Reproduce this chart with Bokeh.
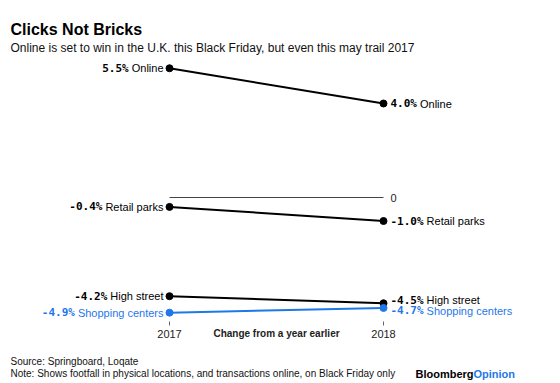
from bokeh.plotting import figure
from bokeh.models import ColumnDataSource, Range1d, Label
from bokeh.core.properties import value
from bokeh.embed import file_html
from bokeh.resources import INLINE

# ---- data ----
years = [2017, 2018]
categories = ["Online", "Retail parks", "High street", "Shopping centers"]
v2017 = [5.5, -0.4, -4.2, -4.9]
v2018 = [4.0, -1.0, -4.5, -4.7]
series_colors = ["#000000", "#000000", "#000000", "#1f77ea"]
year_labels = ["2017", "2018"]

# ---- style constants ----
W, H = 560, 383
PX_PER_YEAR = 214.0
PX_PER_UNIT = 23.5
X0_PX = 169.0      # canvas x of first year
ZERO_PX = 197.0    # canvas y (from top) of value 0
LABEL_FS = 11
MONO_W = 0.602 * LABEL_FS
BLUE = "#1f77ea"
SANS = "Liberation Sans"
MONO = "DejaVu Sans Mono"
right_label_dy = [0, 0, -3, 3]   # pixel nudges to avoid overlaps
left_label_dy = [0, 0, 0, 0]

# Arial / Liberation Sans advance widths (1/1000 em)
AW = {' ': 278, 'a': 556, 'b': 556, 'c': 500, 'd': 556, 'e': 556, 'f': 278, 'g': 556,
      'h': 556, 'i': 222, 'j': 222, 'k': 500, 'l': 222, 'm': 833, 'n': 556, 'o': 556,
      'p': 556, 'q': 556, 'r': 333, 's': 500, 't': 278, 'u': 556, 'v': 500, 'w': 722,
      'x': 500, 'y': 500, 'z': 500, 'O': 778, 'R': 722, 'H': 722, 'S': 667}


def text_w(s, fs):
    return sum(AW.get(ch, 556) for ch in s) * fs / 1000.0


x_start = years[0] - X0_PX / PX_PER_YEAR
x_end = x_start + W / PX_PER_YEAR
y_end = ZERO_PX / PX_PER_UNIT
y_start = -(H - ZERO_PX) / PX_PER_UNIT

p = figure(width=W, height=H, output_backend="svg", toolbar_location=None,
           x_range=Range1d(x_start, x_end), y_range=Range1d(y_start, y_end),
           x_axis_location=None, y_axis_location=None, min_border=0,
           outline_line_color=None, background_fill_color="white",
           border_fill_color="white")
p.xgrid.grid_line_color = None
p.ygrid.grid_line_color = None

# zero line
p.segment(x0=[years[0]], y0=[0], x1=[years[1]], y1=[0], line_color="#444444", line_width=1)
p.text(x=[years[1]], y=[0], text=["0"], x_offset=7, text_baseline="middle",
       text_align="left", text_font=value(SANS), text_font_size="11px", text_color="#222222")

# lines and dots
for a, b, c in zip(v2017, v2018, series_colors):
    p.line(x=years, y=[a, b], line_color=c, line_width=2)
    p.scatter(x=years, y=[a, b], size=7, fill_color=c, line_color=c)

# left labels
lv = ColumnDataSource(dict(
    x=[years[0]] * len(categories), y=v2017,
    val=[f"{v:.1f}%" for v in v2017], name=categories, color=series_colors,
    name_off=[-6] * len(categories),
    val_off=[-(6 + text_w(n, LABEL_FS) + 3) for n in categories],
    dy=left_label_dy))
p.text(x="x", y="y", text="name", x_offset="name_off", y_offset="dy", source=lv,
       text_align="right", text_baseline="middle", text_font=value(SANS),
       text_font_size=f"{LABEL_FS}px", text_color="color")
p.text(x="x", y="y", text="val", x_offset="val_off", y_offset="dy", source=lv,
       text_align="right", text_baseline="middle", text_font=value(MONO),
       text_font_style="bold", text_font_size=f"{LABEL_FS}px", text_color="color")

# right labels
rvals = [f"{v:.1f}%" for v in v2018]
rv = ColumnDataSource(dict(
    x=[years[1]] * len(categories), y=v2018,
    val=rvals, name=categories, color=series_colors,
    val_off=[7] * len(categories),
    name_off=[7 + MONO_W * len(s) + 3 for s in rvals],
    dy=right_label_dy))
p.text(x="x", y="y", text="val", x_offset="val_off", y_offset="dy", source=rv,
       text_align="left", text_baseline="middle", text_font=value(MONO),
       text_font_style="bold", text_font_size=f"{LABEL_FS}px", text_color="color")
p.text(x="x", y="y", text="name", x_offset="name_off", y_offset="dy", source=rv,
       text_align="left", text_baseline="middle", text_font=value(SANS),
       text_font_size=f"{LABEL_FS}px", text_color="color")

# x ticks and labels
axis_y = -(321 - ZERO_PX) / PX_PER_UNIT
tick_len = 4 / PX_PER_UNIT
p.segment(x0=years, y0=[axis_y] * 2, x1=years, y1=[axis_y - tick_len] * 2,
          line_color="#666666", line_width=1)
label_y = -(333 - ZERO_PX) / PX_PER_UNIT
p.text(x=years, y=[label_y] * 2, text=year_labels, text_align="center",
       text_baseline="middle", text_font=value(SANS), text_font_size="11px",
       text_color="#222222")
p.text(x=[(years[0] + years[1]) / 2], y=[label_y], text=["Change from a year earlier"],
       text_align="center", text_baseline="middle", text_font=value(SANS),
       text_font_style="bold", text_font_size="10px", text_color="#222222")

# titles and footer
def add_label(txt, x, y, size, bold=False, color="#000000"):
    p.add_layout(Label(x=x, y=y, x_units="screen", y_units="screen", text=txt,
                       text_font=SANS, text_font_size=size, text_color=color,
                       text_font_style="bold" if bold else "normal",
                       text_baseline="alphabetic", text_align="left"))

add_label("Clicks Not Bricks", 10, H - 29, "16px", bold=True)
add_label("Online is set to win in the U.K. this Black Friday, but even this may trail 2017",
          10, H - 47, "12px", color="#111111")
add_label("Source: Springboard, Loqate", 10, 22, "10px", color="#111111")
add_label("Note: Shows footfall in physical locations, and transactions online, on Black Friday only",
          10, 10, "10px", color="#111111")
add_label("Bloomberg", 415, 10, "11px", bold=True)
add_label("Opinion", 415 + 58, 10, "11px", bold=True, color=BLUE)

open("out.html", "w").write(file_html(p, INLINE))
